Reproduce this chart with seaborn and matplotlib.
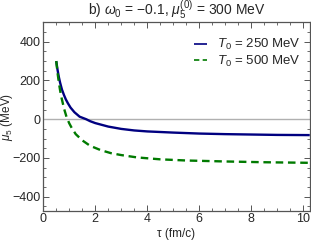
import numpy as np
import pandas as pd
import matplotlib
matplotlib.use('Agg')
import matplotlib.pyplot as plt
import seaborn as sns
from matplotlib.ticker import MultipleLocator

# Values
tau_250 = [0.5, 0.55, 0.6, 0.65, 0.72, 0.8, 0.87, 0.95, 1.05, 1.2, 1.4, 1.65, 1.8, 2.0,
           2.5, 3.0, 3.5, 4.0, 5.0, 6.0, 7.0, 8.0, 9.0, 10.25]
mu5_250 = [300, 255, 218, 188, 153, 124, 102, 82, 60, 36, 13, 0, -10, -20,
           -38, -50, -58, -63, -69, -74, -77, -79, -81, -82]

tau_500 = [0.5, 0.55, 0.6, 0.65, 0.7, 0.8, 0.9, 1.0, 1.1, 1.25, 1.5, 1.8, 2.2, 2.6,
           3.0, 3.6, 4.5, 5.5, 7.0, 8.5, 10.25]
mu5_500 = [300, 240, 190, 148, 113, 55, 10, -21, -46, -77, -109, -137, -159, -175,
           -185, -197, -207, -213, -218, -222, -225]

labels = ['$T_0$ = 250 MeV', '$T_0$ = 500 MeV']

df = pd.concat([
    pd.DataFrame({'tau': tau_250, 'mu5': mu5_250, 'case': labels[0]}),
    pd.DataFrame({'tau': tau_500, 'mu5': mu5_500, 'case': labels[1]}),
])

sns.set_style('ticks')
plt.rcParams['font.family'] = ['Liberation Sans', 'DejaVu Sans']
plt.rcParams['mathtext.fontset'] = 'custom'
plt.rcParams['mathtext.it'] = 'Liberation Sans:italic'
plt.rcParams['mathtext.rm'] = 'Liberation Sans'

fig = plt.figure(figsize=(3.11, 2.45), dpi=100)
ax = fig.add_axes([0.139, 0.14, 0.857, 0.769])

ax.axhline(0, color='#b0b0b0', lw=1.0, zorder=1)
sns.lineplot(data=df, x='tau', y='mu5', hue='case', style='case',
             palette=['#000080', '#007a00'], dashes=[(1, 0), (3.2, 2.0)],
             lw=1.7, ax=ax, sort=False, estimator=None)

ax.set_xlim(0, 10.25)
ax.set_ylim(-472, 500)
ax.xaxis.set_major_locator(MultipleLocator(2))
ax.xaxis.set_minor_locator(MultipleLocator(0.5))
ax.yaxis.set_major_locator(MultipleLocator(200))
ax.yaxis.set_minor_locator(MultipleLocator(50))
ax.tick_params(which='both', direction='in', top=True, right=True, color='#555555',
               labelsize=9, pad=2)
ax.tick_params(which='major', length=4, width=0.7)
ax.tick_params(which='minor', length=2, width=0.6)
for s in ax.spines.values():
    s.set_color('#555555')
    s.set_linewidth(0.9)

ax.set_xlabel('τ (fm/c)', fontsize=8.5, labelpad=2)
ax.set_ylabel('$\\mu_5$ (MeV)', fontsize=8.5)
ax.yaxis.set_label_coords(-0.105, 0.5)
ax.set_title('b) $\\omega_0$ = \u22120.1, $\\mu_5^{(0)}$ = 300 MeV', fontsize=10, pad=3)

leg = ax.legend(loc='upper right', bbox_to_anchor=(1.0, 0.97), frameon=False,
                fontsize=9.5, handlelength=1.0, handletextpad=0.75,
                borderaxespad=0.3, labelspacing=0.1)
for line in leg.get_lines():
    line.set_linewidth(1.2)

fig.savefig('out.png', dpi=100)
